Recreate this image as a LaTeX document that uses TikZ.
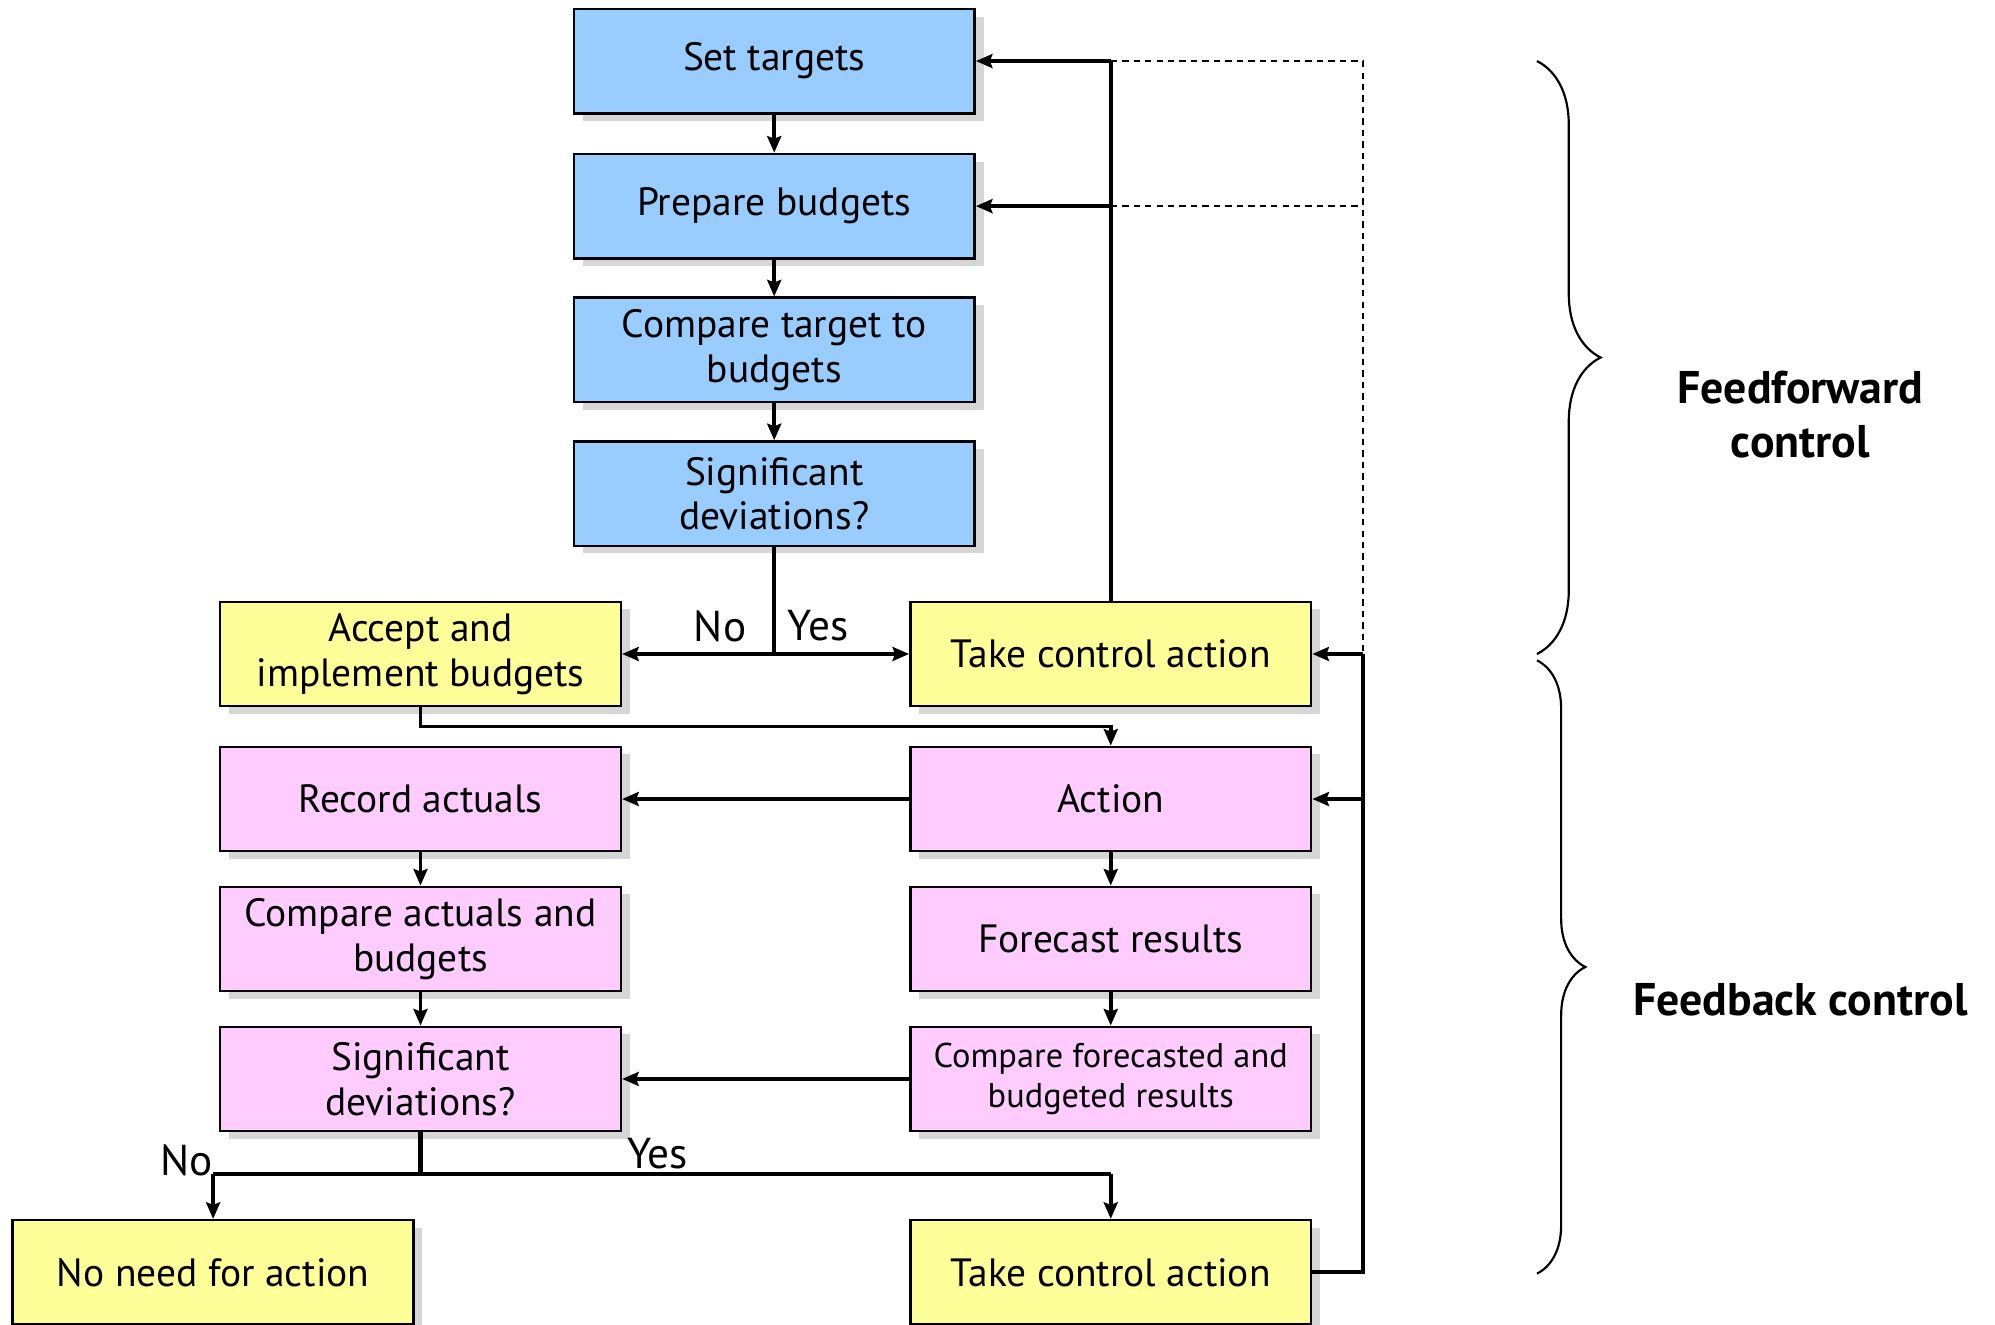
\documentclass[tikz,border=0pt]{standalone}
\usepackage{fontspec}
\setmainfont{PT Sans}
\usetikzlibrary{arrows.meta,shadows,decorations.pathreplacing}
\definecolor{bluebox}{HTML}{99CCFF}
\definecolor{yellowbox}{HTML}{FFFF99}
\definecolor{pinkbox}{HTML}{FFCCFF}
\definecolor{shadowgray}{HTML}{D6D6D6}
\begin{document}
\begin{tikzpicture}[x=1pt,y=-1pt,
  box/.style={draw=black, line width=2pt, minimum width=315pt, minimum height=82pt,
    inner sep=0pt, align=center, font=\fontsize{31}{35}\selectfont,
    drop shadow={shadow xshift=7pt, shadow yshift=-6pt, fill=shadowgray, opacity=1}},
  bluebx/.style={box, fill=bluebox},
  yellowbx/.style={box, fill=yellowbox},
  pinkbx/.style={box, fill=pinkbox},
  thick line/.style={line width=3.2pt, line join=miter},
  conn/.style={thick line, -{Stealth[length=13pt,width=11pt,inset=2pt]}},
  short conn/.style={line width=2.8pt, line join=miter, -{Stealth[length=13pt,width=11pt,inset=2pt]}},
  dashline/.style={line width=1.5pt, dash pattern=on 5pt off 4pt},
  lab/.style={font=\fontsize{34}{38}\selectfont, inner sep=0pt},
  bigbrace/.style={decorate, line width=1.7pt},
  side/.style={font=\bfseries\fontsize{36}{42}\selectfont, align=center, inner sep=0pt},
]
\useasboundingbox (0,0) rectangle (1568,1041);

% nodes
\node[bluebx] (st)  at (608.5,48)  {Set targets};
\node[bluebx] (pb)  at (608.5,162) {Prepare budgets};
\node[bluebx] (ct)  at (608.5,275) {Compare target to\\budgets};
\node[bluebx] (sd1) at (608.5,388) {Significant\\deviations?};
\node[yellowbx] (acc)  at (330.5,514) {Accept and\\implement budgets};
\node[yellowbx] (tca1) at (873,514)   {Take control action};
\node[pinkbx] (ra)  at (330.5,628) {Record actuals};
\node[pinkbx] (act) at (873,628)   {Action};
\node[pinkbx] (cab) at (330.5,738) {Compare actuals and\\budgets};
\node[pinkbx] (fr)  at (873,738)   {Forecast results};
\node[pinkbx] (sd2) at (330.5,848) {Significant\\deviations?};
\node[pinkbx, font=\fontsize{27}{32}\selectfont] (cfb) at (873,848) {Compare forecasted and\\budgeted results};
\node[yellowbx] (nna)  at (167.5,1000) {No need for action};
\node[yellowbx] (tca2) at (873,1000)   {Take control action};

% coordinates
\coordinate (j1) at (608.5,514);
\coordinate (jt1) at (873,48);
\coordinate (jt2) at (873,162);
\coordinate (d1) at (1071,48);
\coordinate (d2) at (1071,162);
\coordinate (rj1) at (1071,514);
\coordinate (rj2) at (1071,628);
\coordinate (rb) at (1071,1000);
\coordinate (a1) at (330.5,571);
\coordinate (a2) at (873,571);
\coordinate (b1) at (330.5,923);
\coordinate (bl) at (167.5,923);
\coordinate (br) at (873,923);

% blue column
\draw[short conn] (st) -- (pb);
\draw[short conn] (pb) -- (ct);
\draw[short conn] (ct) -- (sd1);
\draw[thick line] (sd1.south) -- (j1);
\draw[conn] (j1) -- (acc.east);
\draw[conn] (j1) -- (tca1.west);
\node[lab] at (566,492) {No};
\node[lab] at (643,492) {Yes};

% feedforward loop
\draw[thick line] (tca1.north) -- (jt1);
\draw[conn] (jt1) -- (st.east);
\draw[conn] (jt2) -- (pb.east);
\draw[dashline] (jt1) -- (d1) -- (rj1);
\draw[dashline] (jt2) -- (d2);

% right feedback line
\draw[thick line] (tca2.east) -- (rb) -- (rj1);
\draw[conn] (rj1) -- (tca1.east);
\draw[conn] (rj2) -- (act.east);

% accept -> action
\draw[short conn] (acc.south) -- (a1) -- (a2) -- (act.north);

% pink section
\draw[conn] (act.west) -- (ra.east);
\draw[short conn] (ra) -- (cab);
\draw[short conn] (cab) -- (sd2);
\draw[short conn] (act) -- (fr);
\draw[short conn] (fr) -- (cfb);
\draw[conn] (cfb.west) -- (sd2.east);

% bottom split
\draw[thick line] (sd2.south) -- (b1);
\draw[thick line] (bl) -- (br);
\draw[short conn] (bl) -- (nna.north);
\draw[short conn] (br) -- (tca2.north);
\node[lab] at (147,912) {No};
\node[lab] at (517,907) {Yes};

% braces
\draw[bigbrace, decoration={brace, amplitude=50pt}] (1208,48) -- (1208,514);
\draw[bigbrace, decoration={brace, amplitude=38pt}] (1208,519) -- (1208,1001);
\node[side] (ff) at (1415,326) {Feedforward\\control};
\node[side] (fb) at (1415,786) {Feedback control};
\end{tikzpicture}
\end{document}
